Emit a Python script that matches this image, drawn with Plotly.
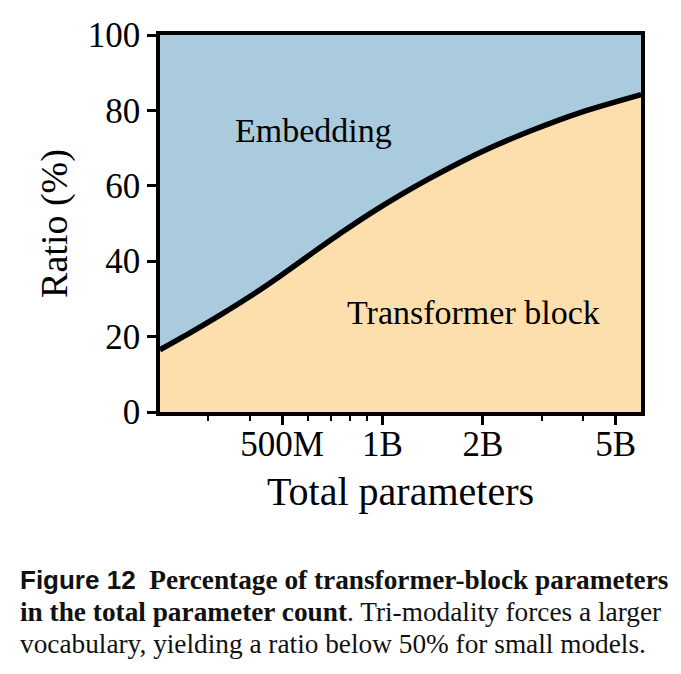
import plotly.graph_objects as go

# Data
params = [2.152e8, 2.65e8, 3.26e8, 4.015e8, 4.94e8, 6.08e8, 7.48e8, 9.20e8,
          1.133e9, 1.394e9, 1.969e9, 2.783e9, 3.932e9, 5.955e9]
transformer_ratio = [16.5, 21.0, 25.7, 30.7, 36.1, 41.8, 47.4, 52.7,
                     57.6, 62.1, 68.9, 74.6, 79.5, 84.2]
embedding_ratio = [round(100 - v, 1) for v in transformer_ratio]

tick_vals = [5e8, 1e9, 2e9, 5e9]
tick_text = ["500M", "1B", "2B", "5B"]
y_ticks = [0, 20, 40, 60, 80, 100]

BLUE = "#AACADE"
ORANGE = "#FDDFAE"
SERIF = "Liberation Serif"
SANS = "Liberation Sans"

fig = go.Figure()
fig.add_trace(go.Scatter(
    x=params, y=transformer_ratio, mode="lines", stackgroup="one",
    line=dict(color="black", width=5.5, shape="spline", smoothing=0.8),
    fillcolor=ORANGE, name="Transformer block", showlegend=False,
))
fig.add_trace(go.Scatter(
    x=params, y=embedding_ratio, mode="lines", stackgroup="one",
    line=dict(color="rgba(0,0,0,0)", width=0, shape="spline", smoothing=0.8),
    fillcolor=BLUE, name="Embedding", showlegend=False,
))

fig.update_layout(
    width=681, height=674,
    margin=dict(l=160, r=40, t=35, b=262),
    paper_bgcolor="white", plot_bgcolor=BLUE,
    font=dict(family=SERIF, color="black", size=30),
)
fig.update_xaxes(
    type="log", range=[8.3333, 9.7745],
    tickvals=tick_vals, ticktext=tick_text,
    ticks="outside", ticklen=9, tickwidth=2.5, tickcolor="black",
    ticklabelstandoff=-11,
    minor=dict(dtick="D1", ticks="outside", ticklen=5, tickwidth=2, tickcolor="black"),
    showline=True, linewidth=3.5, linecolor="black", mirror=True,
    showgrid=False, zeroline=False,
    tickfont=dict(size=35, family=SERIF),
    title=dict(text="Total parameters", font=dict(size=40, family=SERIF), standoff=15),
)
fig.update_yaxes(
    range=[0, 100], tickvals=y_ticks,
    ticks="outside", ticklen=9, tickwidth=2.5, tickcolor="black",
    showline=True, linewidth=3.5, linecolor="black", mirror=True,
    showgrid=False, zeroline=False,
    tickfont=dict(size=35, family=SERIF),
    title=dict(text="Ratio (%)", font=dict(size=38, family=SERIF), standoff=9),
)

fig.add_annotation(x=8.793, y=74.8, xref="x", yref="y", text="Embedding",
                   showarrow=False, font=dict(size=34, family=SERIF))
fig.add_annotation(x=9.273, y=26.5, xref="x", yref="y", text="Transformer block",
                   showarrow=False, font=dict(size=34, family=SERIF))

cap_x = (18 - 160) / 481
cap_lines = [
    ("<span style='font-family:Liberation Sans;font-size:26px'><b>Figure 12</b></span>  "
     "<b>Percentage of transformer-block parameters</b>", -0.4456),
    ("<b>in the total parameter count</b>. Tri-modality forces a larger", -0.5305),
    ("vocabulary, yielding a ratio below 50% for small models.", -0.6154),
]
for txt, yy in cap_lines:
    fig.add_annotation(x=cap_x, y=yy, xref="paper", yref="paper", text=txt,
                       showarrow=False, xanchor="left", yanchor="middle", align="left",
                       font=dict(size=27.3, family=SERIF, color="#111111"))

fig.write_html("out.html")
